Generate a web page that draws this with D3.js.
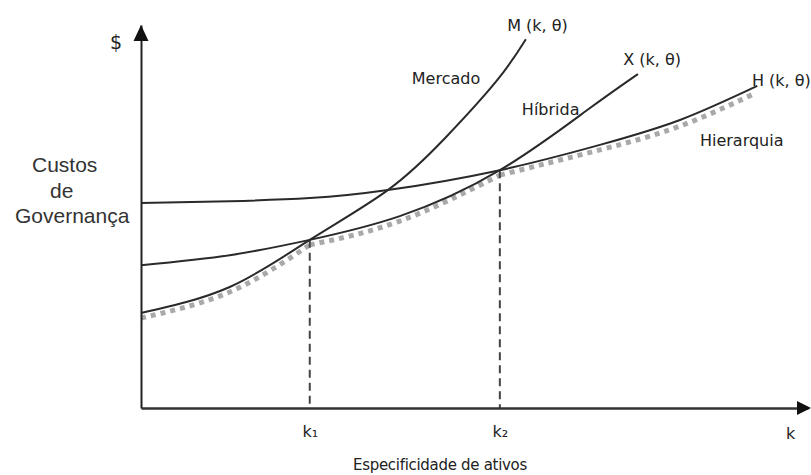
<!DOCTYPE html>
<html>
<head>
<meta charset="utf-8">
<script src="https://cdn.jsdelivr.net/npm/d3@7"></script>
<style>
  body { margin: 0; background: #fff; }
  .lbl { font-family: "DejaVu Sans", sans-serif; font-size: 16px; fill: #222; }
</style>
</head>
<body>
<div class="graph"></div>
<script>
// Curve points: [k, custo], both on a 0..100 scale
var mercado = [[0, 24.8], [13.3, 31.6], [25.3, 43.9], [37.0, 56.9], [45.6, 70.5], [53.4, 85.6], [57.7, 96.3]];
var hibrida = [[0, 37.3], [13.3, 39.9], [25.3, 43.9], [38.8, 50.1], [53.8, 62.1], [66.9, 77.8], [74.5, 87.2]];
var hierarquia = [[0, 53.5], [13.3, 54.0], [25.3, 54.8], [37.0, 56.9], [53.8, 62.1], [68.8, 68.7], [80.8, 75.2], [92.4, 84.1]];

// lower envelope (grey dotted line), one piece per regime
var envMercado = [[0, 23.5], [13.3, 30.3], [25.3, 42.6]];
var envHibrida = [[25.3, 42.6], [38.8, 48.8], [53.8, 60.8]];
var envHierarquia = [[53.8, 60.8], [68.8, 67.4], [80.8, 73.6], [92.1, 82.2]];

// thresholds k1, k2 and the cost where the curves cross there
var thresholds = [{k: 25.3, v: 43.9, label: "k\u2081"}, {k: 53.8, v: 62.1, label: "k\u2082"}];

var curveLabels = [
    {text: "M (k, \u03b8)", k: 54.9, v: 98.4},
    {text: "X (k, \u03b8)", k: 72.3, v: 89.6},
    {text: "H (k, \u03b8)", k: 91.6, v: 84.1},
    {text: "Mercado", k: 40.6, v: 84.6},
    {text: "H\u00edbrida", k: 57.1, v: 76.5},
    {text: "Hierarquia", k: 83.8, v: 68.4}
];

var width = 811;
var height = 475;

var svg = d3.select(".graph").append("svg")
    .attr("width", width)
    .attr("height", height)
    .style("display", "block");

var x = d3.scaleLinear().domain([0, 100]).range([141, 808]);
var y = d3.scaleLinear().domain([0, 100]).range([408, 25]);

var line = d3.line()
    .x(function (d) { return x(d[0]); })
    .y(function (d) { return y(d[1]); })
    .curve(d3.curveNatural);

// dotted envelope
svg.selectAll("path.env")
    .data([envMercado, envHibrida, envHierarquia])
    .enter().append("path")
    .attr("class", "env")
    .attr("d", line)
    .attr("fill", "none")
    .attr("stroke", "#a9a9a9")
    .attr("stroke-width", 5)
    .attr("stroke-dasharray", "5,5");

// dashed drop lines
svg.selectAll("line.drop")
    .data(thresholds)
    .enter().append("line")
    .attr("class", "drop")
    .attr("x1", function (d) { return x(d.k); })
    .attr("x2", function (d) { return x(d.k); })
    .attr("y1", function (d) { return y(d.v); })
    .attr("y2", y(0))
    .attr("stroke", "#444")
    .attr("stroke-width", 2)
    .attr("stroke-dasharray", "8,5");

// cost curves
svg.selectAll("path.curve")
    .data([mercado, hibrida, hierarquia])
    .enter().append("path")
    .attr("class", "curve")
    .attr("d", line)
    .attr("fill", "none")
    .attr("stroke", "#2a2a2a")
    .attr("stroke-width", 2);

// axes
var xAxis = d3.axisBottom(x)
    .tickValues(thresholds.map(function (d) { return d.k; }))
    .tickFormat(function (d, i) { return thresholds[i].label; })
    .tickSize(0)
    .tickSizeOuter(0)
    .tickPadding(18);

var gx = svg.append("g")
    .attr("transform", "translate(0," + y(0) + ")")
    .call(xAxis);
gx.select(".domain").attr("stroke", "#333").attr("stroke-width", 2.5);
gx.selectAll("text")
    .attr("font-family", "DejaVu Sans, sans-serif")
    .attr("font-size", 16)
    .attr("fill", "#222");

var gy = svg.append("g")
    .attr("transform", "translate(" + x(0) + ",0)")
    .call(d3.axisLeft(y).tickValues([]).tickSizeOuter(0));
gy.select(".domain").attr("stroke", "#222").attr("stroke-width", 2);

// arrow heads
svg.append("path")
    .attr("d", "M" + (x(0) - 7.5) + "," + (y(100) + 16) + "L" + x(0) + "," + y(100) + "L" + (x(0) + 7.5) + "," + (y(100) + 16) + "Z")
    .attr("fill", "#111");
svg.append("path")
    .attr("d", "M" + (x(100) - 11) + "," + (y(0) - 7) + "L" + (x(100) + 3) + "," + y(0) + "L" + (x(100) - 11) + "," + (y(0) + 7) + "Z")
    .attr("fill", "#111");

// curve labels
svg.selectAll("text.curveLbl")
    .data(curveLabels)
    .enter().append("text")
    .attr("class", "lbl curveLbl")
    .attr("x", function (d) { return x(d.k); })
    .attr("y", function (d) { return y(d.v); })
    .text(function (d) { return d.text; });

svg.append("text").attr("class", "lbl").attr("x", 110).attr("y", 49)
    .style("font-size", "19px").text("$");
svg.append("text").attr("class", "lbl").attr("x", 786).attr("y", 439).text("k");
svg.append("text").attr("class", "lbl")
    .attr("x", 353).attr("y", 470)
    .style("font-size", "15px")
    .style("letter-spacing", "-0.3px")
    .text("Especificidade de ativos");

var yTitle = [{t: "Custos", x: 32}, {t: "de", x: 50}, {t: "Governan\u00e7a", x: 15}];
svg.selectAll("text.ytitle")
    .data(yTitle)
    .enter().append("text")
    .attr("class", "ytitle")
    .attr("x", function (d) { return d.x; })
    .attr("y", function (d, i) { return 172 + i * 25.5; })
    .attr("font-family", "Liberation Sans, Arial, sans-serif")
    .attr("font-size", 21)
    .attr("fill", "#333")
    .text(function (d) { return d.t; });
</script>
</body>
</html>
